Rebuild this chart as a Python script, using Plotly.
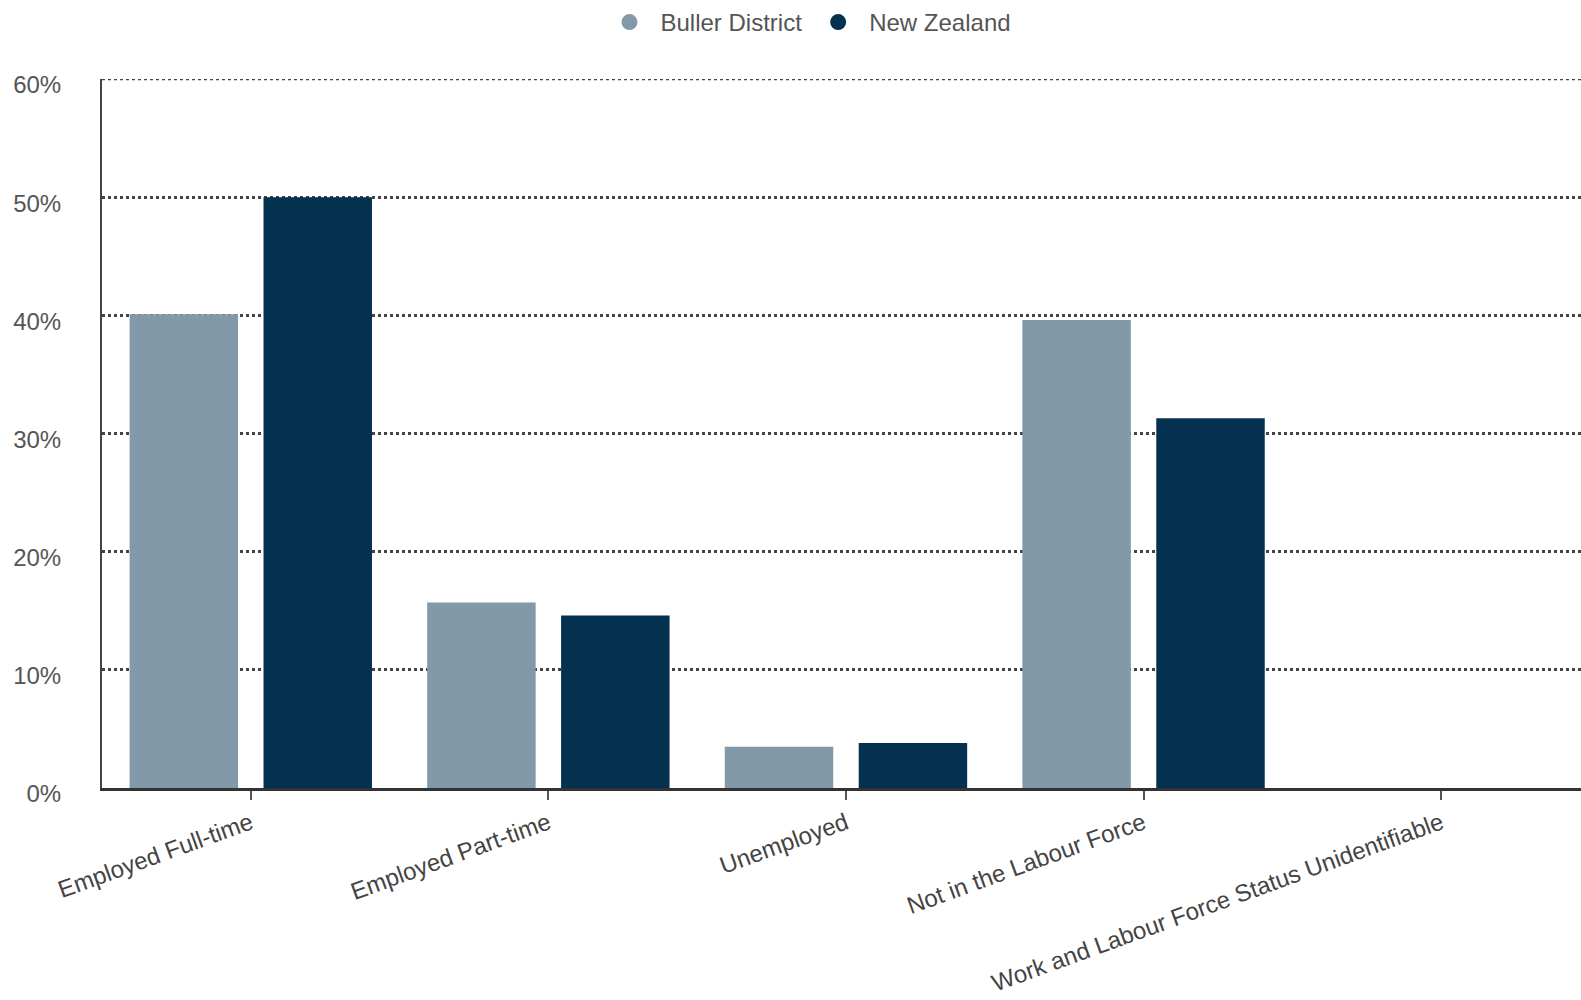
import plotly.graph_objects as go

categories = ["Employed Full-time", "Employed Part-time", "Unemployed",
              "Not in the Labour Force", "Work and Labour Force Status Unidentifiable"]
buller = [40.1, 15.7, 3.5, 39.6, 0.0]
nz = [50.0, 14.6, 3.8, 31.3, 0.0]
series_names = ["Buller District", "New Zealand"]
colors = ["#8299A9", "#03314F"]
y_ticks = [0, 10, 20, 30, 40, 50, 60]
y_tick_text = [f"{v}%" for v in y_ticks]

font_family = "Liberation Sans, Arial, sans-serif"

fig = go.Figure()
for name, vals, col in zip(series_names, [buller, nz], colors):
    fig.add_trace(go.Bar(x=categories, y=vals, name=name, marker_color=col,
                         marker_line_width=0, showlegend=False))
    fig.add_trace(go.Scatter(x=[None], y=[None], mode="markers", name=name,
                             marker=dict(symbol="circle", size=22, color=col)))

grid_style = dict(color="#444444", width=2.5, dash="dot")

fig.update_layout(
    width=1581, height=1000,
    margin=dict(l=102, r=0, t=75, b=212),
    plot_bgcolor="white", paper_bgcolor="white",
    barmode="group", bargap=0.1, bargroupgap=0.19,
    font=dict(family=font_family, color="#555555"),
    legend=dict(orientation="h", x=0.477, xanchor="center", y=1.08, yanchor="middle",
                font=dict(size=24, color="#555555"), itemsizing="trace",
                itemwidth=52, tracegroupgap=0),
    shapes=[dict(type="line", xref="paper", yref="y", x0=0, x1=1,
                 y0=y_ticks[-1], y1=y_ticks[-1], line=grid_style, layer="above")],
)
fig.update_xaxes(
    range=[-0.5, 4.47], showgrid=False, showline=True, linecolor="#333333", linewidth=3,
    ticks="outside", ticklen=9, tickwidth=2, tickcolor="#555555",
    tickangle=-20, tickfont=dict(size=24, color="#444444"), zeroline=False,
)
fig.update_yaxes(
    range=[0, 60], tickvals=y_ticks, ticktext=y_tick_text,
    showgrid=True, gridcolor=grid_style["color"], griddash="dot", gridwidth=grid_style["width"],
    showline=True, linecolor="#444444", linewidth=2, zeroline=False,
    tickfont=dict(size=24, color="#555555"), ticklabelstandoff=34, ticklabelshift=6,
)

fig.write_html("out.html")
